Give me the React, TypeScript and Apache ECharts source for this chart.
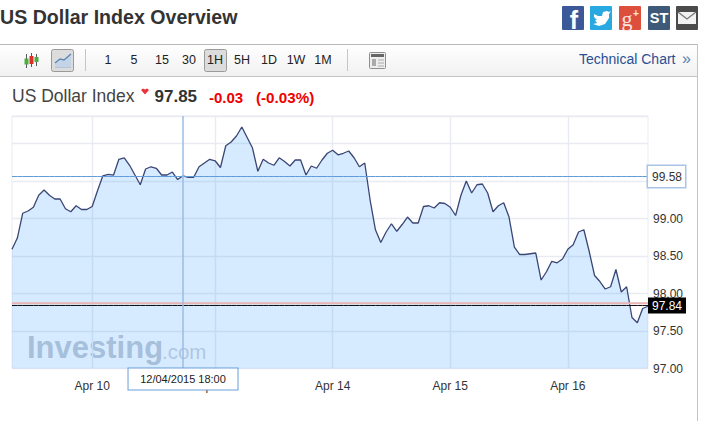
import React, { useEffect, useRef } from "react";
import * as echarts from "echarts";

const values = [
  98.59, 98.74, 99.07, 99.10, 99.15, 99.31, 99.38, 99.31, 99.26, 99.26, 99.13, 99.09, 99.17, 99.12, 99.12, 99.16,
  99.37, 99.57, 99.59, 99.58, 99.79, 99.81, 99.71, 99.58, 99.45, 99.66, 99.69, 99.67, 99.58, 99.58, 99.62, 99.52,
  99.57, 99.55, 99.55, 99.69, 99.74, 99.79, 99.77, 99.68, 99.97, 100.02, 100.10,
  100.22, 100.08, 99.94, 99.63, 99.79, 99.74, 99.71, 99.81, 99.76, 99.70, 99.78, 99.78, 99.58, 99.70, 99.67, 99.78,
  99.87, 99.91, 99.85, 99.87, 99.90, 99.81, 99.69, 99.74, 99.25, 98.85, 98.68, 98.82, 98.93, 98.83, 98.92, 99.02,
  98.94, 98.94, 99.16, 99.17, 99.14, 99.21, 99.20, 99.15, 99.04, 99.31, 99.50,
  99.34, 99.45, 99.46, 99.34, 99.09, 99.17, 99.21, 99.02, 98.62, 98.52, 98.52, 98.53, 98.54, 98.18, 98.29, 98.43,
  98.41, 98.46, 98.59, 98.65, 98.82, 98.85, 98.56, 98.24, 98.16, 98.06, 98.09, 98.32, 98.02, 98.09, 97.68, 97.61,
  97.80, 97.83,
];
const tickIndexes = [15, 38, 60, 82, 104];
const tickLabels = ["Apr 10", "Apr 13", "Apr 14", "Apr 15", "Apr 16"];
const periods = ["1", "5", "15", "30", "1H", "5H", "1D", "1W", "1M"];
const crosshairIndex = 32;
const crosshairDate = "12/04/2015 18:00";
const crosshairLevel = 99.56;
const crosshairLabel = "99.58";
const lastValue = 97.84;
const previousClose = 97.87;
const FONT = "'Liberation Sans', Arial, sans-serif";

const txt = (text: string, x: number, y: number, size: number, fill: string, extra: any = {}) => ({
  type: "text", x, y, silent: true,
  style: { text, fill, fontSize: size, fontFamily: FONT, textVerticalAlign: "middle", verticalAlign: "middle", ...extra },
});
const rect = (x: number, y: number, width: number, height: number, style: any, r = 0) => ({
  type: "rect", silent: true, shape: { x, y, width, height, r }, style,
});
const line = (x1: number, y1: number, x2: number, y2: number, stroke: string, lineWidth = 1) => ({
  type: "line", silent: true, shape: { x1, y1, x2, y2 }, style: { stroke, lineWidth },
});
const poly = (points: number[][], style: any) => ({ type: "polygon", silent: true, shape: { points }, style });
const pline = (points: number[][], style: any) => ({ type: "polyline", silent: true, shape: { points }, style });

const periodX = [108, 134, 162, 189, 215, 242, 269, 296, 323];

const chrome: any[] = [
  txt("US Dollar Index Overview", 0, 17, 19.6, "#333", { fontWeight: "bold" }),
  {
    type: "rect", silent: true, shape: { x: 0, y: 44, width: 697, height: 32.5 },
    style: {
      fill: new echarts.graphic.LinearGradient(0, 0, 0, 1, [
        { offset: 0, color: "#ffffff" }, { offset: 1, color: "#f1f1f1" },
      ]),
    },
  },
  line(0, 44.5, 697, 44.5, "#b8b8b8"),
  line(0, 76.5, 697, 76.5, "#c4c4c4"),
  line(697.5, 44, 697.5, 421, "#c4c4c4"),
  line(85.5, 49, 85.5, 71, "#c6c6c6"),
  line(347.5, 49, 347.5, 71, "#c6c6c6"),
  line(26.5, 54, 26.5, 68, "#556"), rect(24.5, 58.5, 4, 6, { fill: "#4cae3c" }),
  line(31.5, 53, 31.5, 67, "#556"), rect(29.5, 56, 4, 8, { fill: "#d9302a" }),
  line(36.5, 54, 36.5, 66, "#556"), rect(34.5, 57, 4, 5, { fill: "#4cae3c" }),
  rect(51.5, 49.5, 22, 22, { fill: "#dcdcdc", stroke: "#9a9a9a" }, 2),
  poly([[55, 64], [60, 60], [64, 61], [71, 55], [71, 68], [55, 68]], { fill: "#c4d4e8" }),
  pline([[55, 63], [60, 59], [64, 60], [71, 54]], { stroke: "#5b86b8", fill: "none", lineWidth: 1.4 }),
  line(55, 67.5, 71, 67.5, "#b6c4d6"),
  rect(204.5, 49.5, 22, 22, { fill: "#dcdcdc", stroke: "#9a9a9a" }, 2),
  ...periods.map((p, i) => txt(p, periodX[i], 59.5, 12.5, "#222", { textAlign: "center", align: "center" })),
  rect(369.5, 52.5, 16, 16, { fill: "#eeeeee", stroke: "#8f8f8f" }, 1),
  rect(371, 54, 13, 3, { fill: "#666" }),
  rect(372, 59, 4, 7, { fill: "#aaa" }),
  line(378, 60, 384, 60, "#aaa"), line(378, 63, 384, 63, "#aaa"), line(378, 66, 384, 66, "#aaa"),
  txt("Technical Chart", 579, 59, 14, "#2a4f94"),
  txt("»", 682, 58.5, 16, "#5b7fb0"),
  rect(562, 6, 22, 24, { fill: "#3b5998" }, 1),
  txt("f", 574, 20, 25, "#fff", { fontWeight: "bold", textAlign: "center", align: "center" }),
  rect(590, 6, 22, 24, { fill: "#29a9e1" }, 1),
  poly([[594, 14], [598, 16], [602, 16], [603, 12], [607, 11], [609, 12], [611, 11], [609, 14], [609, 18], [605, 24], [599, 26], [593, 24], [597, 23], [595, 20], [597, 20], [594, 17]], { fill: "#fff" }),
  rect(619, 6, 22, 24, { fill: "#dd4f3d" }, 1),
  txt("g", 627, 18, 22, "#fbe3df", { textAlign: "center", align: "center", fontFamily: "'Liberation Serif', serif" }),
  txt("+", 636, 13, 10, "#fbe3df", { textAlign: "center", align: "center", fontWeight: "bold" }),
  rect(648, 6, 22, 24, { fill: "#3f5a78" }, 1),
  txt("ST", 659, 18, 14.5, "#fff", { textAlign: "center", align: "center", fontWeight: "bold" }),
  rect(676, 6, 22, 24, { fill: "#4b4b4b" }, 1),
  rect(678, 12, 18, 12, { fill: "#f2f2f2" }),
  pline([[678, 12], [687, 19], [696, 12]], { stroke: "#777", fill: "none", lineWidth: 1.3 }),
  txt("US Dollar Index", 12, 96, 17.5, "#444"),
  poly([[141, 90], [143, 88.5], [145, 89.5], [147, 88.5], [149, 90], [145, 94.5]], { fill: "#f0323c" }),
  txt("97.85", 154.5, 96, 17, "#333", { fontWeight: "bold" }),
  txt("-0.03", 209, 97, 15, "#f00000", { fontWeight: "bold" }),
  txt("(-0.03%)", 256, 97, 15.2, "#f00000", { fontWeight: "bold" }),
  txt("Investing", 27, 347, 31, "rgba(95,110,135,0.4)", { fontWeight: "bold" }),
  txt(".com", 162, 351, 20.5, "rgba(110,125,150,0.36)"),
];

const levelLine = (level: number, color: string, width: number, endLabel: any) => ({
  type: "line",
  data: values.map(() => level),
  showSymbol: false,
  silent: true,
  z: 4,
  lineStyle: { color, width, opacity: 1 },
  endLabel,
});

export default function App() {
  const ref = useRef<HTMLDivElement>(null);
  useEffect(() => {
    const chart = echarts.init(ref.current!, undefined, { renderer: "svg" });
    const isTick = (i: number) => tickIndexes.includes(i);
    chart.setOption({
      animation: false,
      backgroundColor: "#fff",
      textStyle: { fontFamily: FONT },
      grid: { left: 12, right: 56, top: 116, bottom: 52.5, show: true, borderColor: "#e9ebf2", borderWidth: 1 },
      xAxis: {
        type: "category",
        boundaryGap: false,
        data: values.map((_, i) => String(i)),
        axisLine: { show: false },
        axisTick: { show: false },
        axisLabel: {
          interval: (i: number) => isTick(i),
          formatter: (_: string, i: number) => tickLabels[tickIndexes.indexOf(i)] ?? "",
          color: "#333", fontSize: 12, fontFamily: FONT, margin: 11,
        },
        splitLine: { show: true, interval: (i: number) => isTick(i), lineStyle: { color: "#e9ebf2", width: 1.4 } },
      },
      yAxis: {
        type: "value",
        position: "right",
        min: 97,
        max: 100.367,
        interval: 0.5,
        axisLine: { show: false },
        axisTick: { show: false },
        axisLabel: {
          color: "#333", fontSize: 12, fontFamily: FONT, margin: 5,
          formatter: (v: number) => (v <= 99 ? v.toFixed(2) : ""),
        },
        splitLine: { show: true, lineStyle: { color: "#e9ebf2", width: 1.4 } },
      },
      graphic: { elements: chrome },
      series: [
        {
          type: "line",
          data: values,
          showSymbol: false,
          silent: true,
          lineStyle: { color: "#3a4674", width: 1.3 },
          areaStyle: { color: "#3399ff", opacity: 0.2, origin: "start" },
          z: 3,
          markLine: {
            silent: true,
            symbol: "none",
            animation: false,
            lineStyle: { color: "#9dbde6", width: 1.5, type: "solid", opacity: 1 },
            label: {
              show: true, position: "start", distance: 0, formatter: crosshairDate,
              color: "#222", fontSize: 11, fontFamily: FONT, backgroundColor: "#fff",
              borderColor: "#6a9fd8", borderWidth: 1,
              width: 109, height: 21, lineHeight: 21, align: "center",
            },
            data: [{ xAxis: crosshairIndex }],
          },
        },
        levelLine(previousClose, "#e8b4b4", 2, { show: false }),
        levelLine(lastValue, "#111111", 1, {
          show: true, distance: 0, formatter: lastValue.toFixed(2),
          color: "#fff", fontSize: 12, fontFamily: FONT, backgroundColor: "#000",
          width: 34, height: 16, lineHeight: 16, padding: [0, 0, 0, 4],
        }),
        levelLine(crosshairLevel, "#5f9ad8", 1, {
          show: true, distance: 0, formatter: crosshairLabel,
          color: "#333", fontSize: 12, fontFamily: FONT, backgroundColor: "#fff",
          borderColor: "#a8c4e6", borderWidth: 1.5,
          width: 33, height: 21, lineHeight: 21, padding: [0, 0, 0, 4],
        }),
      ],
    });
    return () => chart.dispose();
  }, []);
  return <div ref={ref} style={{ position: "fixed", left: 0, top: 0, width: 704, height: 421 }} />;
}
